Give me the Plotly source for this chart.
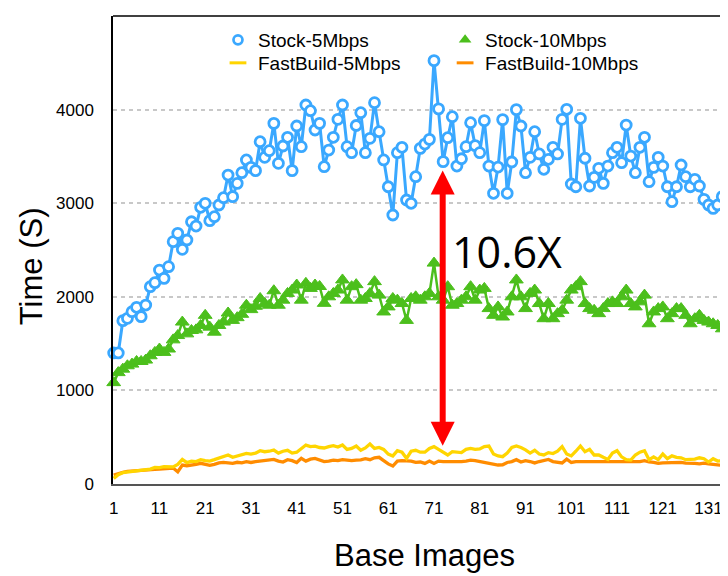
import plotly.graph_objects as go

image_idx = list(range(1, 137))

stock_5 = [1400, 1400, 1745, 1770, 1841, 1888, 1788, 1912, 2108, 2151,
           2286, 2197, 2322, 2589, 2678, 2507, 2607, 2802, 2756, 2956,
           2999, 2813, 2856, 2981, 3059, 3301, 3070, 3212, 3326, 3462,
           3383, 3348, 3657, 3490, 3561, 3853, 3426, 3611, 3704, 3348,
           3825, 3604, 4049, 3988, 3782, 3853, 3390, 3568, 3704, 3896,
           4049, 3604, 3540, 3830, 3967, 3540, 3693, 4074, 3764, 3462,
           3176, 2874, 3540, 3597, 3034, 2999, 3283, 3586, 3632, 3682,
           4523, 4008, 3444, 3700, 3924, 3397, 3475, 3604, 3860, 3615,
           3540, 3882, 3397, 3106, 3386, 3893, 3106, 3440, 4000, 3825,
           3326, 3490, 3764, 3526, 3362, 3469, 3597, 3526, 3896, 4003,
           3205, 3176, 3907, 3480, 3184, 3276, 3373, 3212, 3397, 3540,
           3597, 3433, 3835, 3504, 3326, 3597, 3704, 3230, 3383, 3490,
           3397, 3176, 3016, 3176, 3408, 3283, 3176, 3255, 3184, 3041,
           2981, 2945, 2981, 3070, 3123, 3150]

stock_10 = [1083, 1190, 1227, 1263, 1281, 1309, 1309, 1324, 1370, 1406,
            1442, 1406, 1442, 1540, 1586, 1730, 1604, 1640, 1647, 1694,
            1802, 1676, 1622, 1694, 1730, 1827, 1748, 1777, 1813, 1910,
            1863, 1899, 1982, 1928, 1910, 2065, 1910, 1964, 2036, 2072,
            2126, 1964, 2144, 2090, 2126, 2110, 1930, 2000, 2036, 2072,
            2180, 1964, 2108, 2130, 1964, 1982, 2036, 2162, 2018, 1838,
            1892, 1982, 1964, 1928, 1748, 1982, 2000, 1964, 2000, 2036,
            2360, 2000, 1964, 2108, 1910, 1928, 1964, 2000, 2108, 1964,
            2072, 2090, 1874, 1802, 1892, 1784, 1838, 2000, 2180, 2000,
            1874, 2036, 2072, 1928, 1766, 1928, 1766, 1820, 1856, 1964,
            2072, 2108, 2162, 1928, 1874, 1856, 1820, 1874, 1928, 1946,
            1928, 2000, 2072, 1928, 1892, 1946, 2018, 1712, 1838, 1874,
            1892, 1766, 1820, 1874, 1874, 1802, 1712, 1766, 1802, 1748,
            1730, 1712, 1694, 1658, 1748, 1766]

fastbuild_5 = [60, 100, 121, 128, 135, 145, 150, 150, 160, 178,
               175, 185, 180, 182, 210, 263, 228, 245, 240, 260,
               250, 245, 260, 274, 295, 310, 285, 300, 320, 327,
               320, 330, 356, 345, 350, 363, 330, 350, 360, 330,
               340, 380, 416, 400, 405, 390, 385, 400, 410, 395,
               416, 370, 380, 405, 360, 385, 427, 380, 390, 370,
               320, 300, 356, 340, 274, 350, 360, 340, 340, 380,
               399, 370, 340, 310, 345, 340, 335, 370, 380, 370,
               375, 400, 406, 320, 300, 292, 330, 390, 406, 390,
               365, 330, 360, 320, 310, 335, 325, 350, 399, 320,
               300, 350, 406, 345, 370, 310, 310, 285, 263, 330,
               356, 290, 260, 256, 310, 340, 356, 260, 290, 260,
               320, 270, 300, 285, 280, 260, 260, 265, 280, 270,
               235, 270, 245, 250, 262, 260]

fastbuild_10 = [96, 115, 125, 135, 140, 142, 145, 150, 155, 157,
                160, 165, 165, 170, 130, 203, 195, 200, 210, 221,
                215, 200, 210, 225, 230, 228, 220, 232, 225, 238,
                230, 240, 245, 249, 255, 263, 245, 235, 260, 250,
                230, 274, 245, 265, 274, 255, 240, 245, 255, 250,
                260, 255, 250, 255, 258, 270, 260, 280, 285, 250,
                215, 192, 245, 250, 250, 245, 232, 235, 220, 245,
                220, 245, 240, 238, 238, 238, 240, 245, 255, 250,
                240, 228, 220, 215, 203, 205, 230, 240, 260, 235,
                250, 240, 225, 240, 250, 262, 240, 235, 225, 265,
                230, 240, 235, 238, 240, 240, 240, 238, 238, 238,
                235, 238, 232, 235, 238, 240, 250, 235, 230, 220,
                225, 228, 225, 235, 230, 222, 225, 220, 215, 222,
                215, 210, 202, 200, 205, 210]

x_tick_vals = [1, 11, 21, 31, 41, 51, 61, 71, 81, 91, 101, 111, 121, 131]
y_tick_vals = [0, 1000, 2000, 3000, 4000, 5000]

BLUE = "#3AA8FF"
GREEN = "#4CBF1C"
YELLOW = "#FFD500"
ORANGE = "#FF8C00"
FONT = "Liberation Sans, Arial, Helvetica, sans-serif"

fig = go.Figure()

fig.add_trace(go.Scatter(
    x=image_idx, y=fastbuild_10, mode="lines", showlegend=False,
    line=dict(color=ORANGE, width=3.3), cliponaxis=False))
fig.add_trace(go.Scatter(
    x=image_idx, y=fastbuild_5, mode="lines", showlegend=False,
    line=dict(color=YELLOW, width=3.3), cliponaxis=False))
fig.add_trace(go.Scatter(
    x=image_idx, y=stock_10, mode="lines+markers", showlegend=False,
    line=dict(color=GREEN, width=2.5),
    marker=dict(symbol="triangle-up", size=12, color=GREEN,
                line=dict(color=GREEN, width=1)),
    cliponaxis=False))
fig.add_trace(go.Scatter(
    x=image_idx, y=stock_5, mode="lines+markers", showlegend=False,
    line=dict(color=BLUE, width=3),
    marker=dict(symbol="circle", size=10, color="white",
                line=dict(color=BLUE, width=2.8)),
    cliponaxis=False))

# legend entries
fig.add_trace(go.Scatter(
    x=[None], y=[None], mode="markers", name="Stock-5Mbps", legend="legend",
    marker=dict(symbol="circle", size=9, color="white",
                line=dict(color=BLUE, width=2.7))))
fig.add_trace(go.Scatter(
    x=[None], y=[None], mode="markers", name="Stock-10Mbps", legend="legend2",
    marker=dict(symbol="triangle-up", size=11, color=GREEN)))
fig.add_trace(go.Scatter(
    x=[None], y=[None], mode="markers", name="FastBuild-5Mbps", legend="legend3",
    marker=dict(symbol="line-ew", size=12, line=dict(color=YELLOW, width=3))))
fig.add_trace(go.Scatter(
    x=[None], y=[None], mode="markers", name="FastBuild-10Mbps", legend="legend4",
    marker=dict(symbol="line-ew", size=12, line=dict(color=ORANGE, width=3))))

legend_common = dict(
    bgcolor="rgba(0,0,0,0)", borderwidth=0,
    font=dict(family=FONT, size=19, color="black"),
    xanchor="left", yanchor="middle", tracegroupgap=0,
)
ROW1, ROW2 = 0.9487, 0.8996
COL1, COL2 = 0.1707, 0.54

fig.update_layout(
    width=720, height=568,
    margin=dict(l=105, r=0, t=8, b=92),
    paper_bgcolor="white", plot_bgcolor="white",
    font=dict(family=FONT, color="black"),
    legend=dict(x=COL1, y=ROW1, **legend_common),
    legend2=dict(x=COL2, y=ROW1, **legend_common),
    legend3=dict(x=COL1, y=ROW2, **legend_common),
    legend4=dict(x=COL2, y=ROW2, **legend_common),
    xaxis=dict(
        range=[0.85, 135.25], tickvals=x_tick_vals,
        ticktext=[str(v) for v in x_tick_vals],
        showgrid=False, zeroline=False,
        showline=True, linecolor="#555555", linewidth=2,
        ticks="", ticklabelstandoff=8,
        tickfont=dict(family=FONT, size=17, color="black"),
    ),
    yaxis=dict(
        range=[0, 5000], tickvals=y_tick_vals,
        ticktext=[str(v) for v in y_tick_vals],
        showgrid=True, gridcolor="#C8C8C8", gridwidth=1.5, griddash="4px,4px",
        zeroline=False,
        showline=True, linecolor="black", linewidth=1.5,
        ticks="", ticklabelstandoff=14,
        tickfont=dict(family=FONT, size=17, color="black"),
    ),
    shapes=[dict(type="line", xref="paper", yref="paper",
                 x0=0, x1=1, y0=1, y1=1,
                 line=dict(color="black", width=1.5))],
    annotations=[
        dict(text="Base Images", xref="paper", yref="paper",
             x=0.506, y=-0.152, xanchor="center", yanchor="middle",
             showarrow=False, font=dict(family=FONT, size=31, color="black")),
        dict(text="Time (S)", xref="paper", yref="paper",
             x=-0.132, y=0.465, xanchor="center", yanchor="middle",
             textangle=-90, showarrow=False,
             font=dict(family=FONT, size=31, color="black")),
        dict(text="10.6X", xref="x", yref="y", x=74.6, y=2479,
             xanchor="left", yanchor="middle", showarrow=False,
             font=dict(family="Open Sans, Noto Sans, sans-serif", size=43,
                       color="black")),
        dict(text="", xref="x", yref="y", x=72.9, y=3350,
             axref="x", ayref="y", ax=72.9, ay=393,
             showarrow=True, arrowside="end+start",
             arrowhead=2, startarrowhead=2,
             arrowsize=0.8, startarrowsize=0.8,
             arrowwidth=6, arrowcolor="#FF0000",
             standoff=0, startstandoff=0),
    ],
)

fig.write_html("out.html")
